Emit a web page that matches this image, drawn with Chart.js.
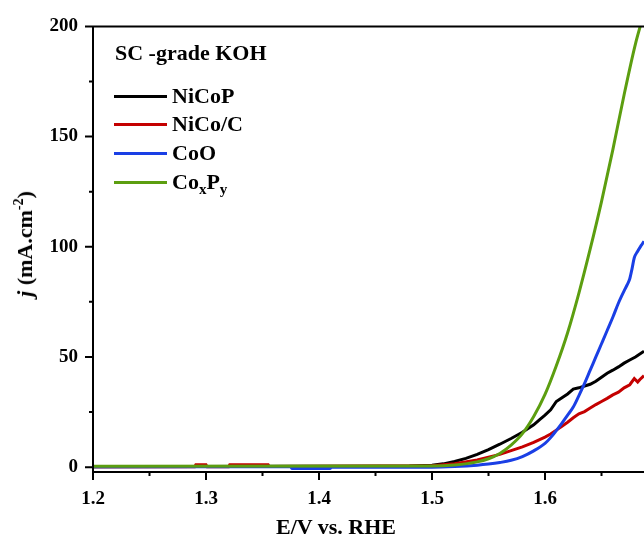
<!DOCTYPE html>
<html>
<head>
<meta charset="utf-8">
<script src="https://cdn.jsdelivr.net/npm/chart.js@4.4.0/dist/chart.umd.min.js"></script>
<style>
  body { margin: 0; background: #fff; }
  #wrap { position: relative; width: 644px; height: 535px; overflow: hidden; font-family: "Liberation Serif", "Times New Roman", serif; font-weight: bold; }
  #myChart { position: absolute; left: 0; top: 0; }
  .lbl { position: absolute; font-size: 22px; line-height: 22px; white-space: nowrap; color: #000; }
  .swatch { position: absolute; width: 53px; height: 3px; }
  sub { font-size: 15px; vertical-align: -5px; line-height: 0; }
  sup { font-size: 14px; vertical-align: 9px; line-height: 0; }
</style>
</head>
<body>
<div id="wrap">
  <canvas id="myChart" width="644" height="535"></canvas>
  <div class="lbl" style="left:115px; top:42px;">SC -grade KOH</div>

  <div class="swatch" style="left:114px; top:95px; background:#000000;"></div>
  <div class="lbl" style="left:172px; top:85px;">NiCoP</div>
  <div class="swatch" style="left:114px; top:123px; background:#c40000;"></div>
  <div class="lbl" style="left:172px; top:113px;">NiCo/C</div>
  <div class="swatch" style="left:114px; top:152px; background:#1a3fe5;"></div>
  <div class="lbl" style="left:172px; top:142px;">CoO</div>
  <div class="swatch" style="left:114px; top:181px; background:#5c9e10;"></div>
  <div class="lbl" style="left:172px; top:171px;">Co<sub>x</sub>P<sub>y</sub></div>

  <div class="lbl" style="left:336px; top:516px; transform:translateX(-50%);">E/V vs. RHE</div>
  <div class="lbl" style="left:25px; top:244px; transform:translate(-50%,-50%) rotate(-90deg);"><i>j</i> (mA.cm<sup>-2</sup>)</div>
</div>

<script>
// potentials (V vs RHE) and current densities (mA/cm2)
const nicopV = [1.2, 1.48, 1.50, 1.51, 1.52, 1.53, 1.54, 1.55, 1.56, 1.57, 1.58, 1.59, 1.595, 1.60, 1.605, 1.61, 1.615, 1.62, 1.625, 1.63, 1.635, 1.64, 1.645, 1.65, 1.655, 1.66, 1.665, 1.67, 1.675, 1.68, 1.6876];
const nicopJ = [0.2, 0.5, 0.9, 1.5, 2.6, 4.0, 5.8, 8.0, 10.4, 13.0, 15.8, 19.2, 21.5, 23.6, 26.0, 29.8, 31.5, 33.2, 35.4, 36.0, 36.8, 37.6, 39.0, 40.8, 42.6, 44.0, 45.5, 47.2, 48.6, 50.0, 52.6];

const nicocV = [1.2, 1.29, 1.291, 1.30, 1.301, 1.32, 1.321, 1.355, 1.356, 1.50, 1.52, 1.54, 1.56, 1.58, 1.59, 1.60, 1.605, 1.61, 1.615, 1.62, 1.625, 1.63, 1.635, 1.64, 1.645, 1.65, 1.655, 1.66, 1.665, 1.67, 1.675, 1.679, 1.682, 1.684, 1.6876];
const nicocJ = [0.2, 0.2, 1.1, 1.1, 0.2, 0.2, 1.1, 1.1, 0.3, 0.6, 1.5, 3.3, 5.8, 9.2, 11.2, 13.6, 15.0, 16.8, 18.6, 20.4, 22.4, 24.2, 25.2, 26.8, 28.4, 29.8, 31.2, 32.8, 34.0, 36.0, 37.4, 40.2, 38.6, 39.8, 41.5];

const cooV = [1.2, 1.375, 1.376, 1.41, 1.411, 1.50, 1.52, 1.54, 1.55, 1.56, 1.57, 1.58, 1.59, 1.60, 1.605, 1.61, 1.615, 1.62, 1.625, 1.63, 1.635, 1.64, 1.645, 1.65, 1.655, 1.66, 1.665, 1.67, 1.673, 1.675, 1.677, 1.679, 1.682, 1.685, 1.6876];
const cooJ = [0.2, 0.2, -0.6, -0.6, 0, 0, 0.3, 0.9, 1.4, 2.1, 3.1, 4.8, 7.4, 10.8, 13.4, 16.6, 20.0, 23.6, 27.3, 32.5, 38.0, 44.0, 50.0, 56.0, 62.0, 68.0, 74.5, 80.0, 83.0, 85.5, 90.0, 95.0, 98.0, 100.5, 102.5];

const coxpyV = [1.2, 1.50, 1.52, 1.54, 1.55, 1.56, 1.57, 1.58, 1.59, 1.60, 1.61, 1.62, 1.63, 1.64, 1.65, 1.66, 1.67, 1.68, 1.6876];
const coxpyJ = [0.4, 0.5, 1.0, 2.4, 3.8, 6.2, 10.0, 15.2, 23.0, 33.0, 46.0, 61.0, 79.0, 99.0, 120.5, 144.0, 169.0, 192.0, 206.0];

const xTicks = [1.2, 1.3, 1.4, 1.5, 1.6];
const xMinorTicks = [1.25, 1.35, 1.45, 1.55, 1.65];
const yTicks = [0, 50, 100, 150, 200];
const yMinorTicks = [25, 75, 125, 175];

function pts(xs, ys) {
  return xs.map((x, i) => ({ x: x, y: ys[i] }));
}

// axis frame + inward/outward tick marks
const framePlugin = {
  id: "frame",
  afterDraw(chart) {
    const ctx = chart.ctx;
    const a = chart.chartArea;
    const xs = chart.scales.x;
    const ys = chart.scales.y;
    ctx.save();
    ctx.strokeStyle = "#000";
    ctx.lineWidth = 2;
    ctx.beginPath();
    ctx.moveTo(a.left, a.top);
    ctx.lineTo(a.right, a.top);
    ctx.moveTo(a.left, a.top);
    ctx.lineTo(a.left, a.bottom);
    ctx.lineTo(a.right, a.bottom);
    xTicks.forEach(v => {
      const p = xs.getPixelForValue(v);
      ctx.moveTo(p, a.bottom);
      ctx.lineTo(p, a.bottom + 8);
    });
    xMinorTicks.forEach(v => {
      const p = xs.getPixelForValue(v);
      ctx.moveTo(p, a.bottom);
      ctx.lineTo(p, a.bottom + 4);
    });
    yTicks.forEach(v => {
      const p = ys.getPixelForValue(v);
      ctx.moveTo(a.left, p);
      ctx.lineTo(a.left - 8, p);
    });
    yMinorTicks.forEach(v => {
      const p = ys.getPixelForValue(v);
      ctx.moveTo(a.left, p);
      ctx.lineTo(a.left - 4, p);
    });
    ctx.stroke();
    ctx.restore();
  }
};

const tickFont = { family: "Liberation Serif", size: 19, weight: "bold" };

new Chart(document.getElementById("myChart"), {
  type: "line",
  data: {
    datasets: [
      { label: "NiCoP", data: pts(nicopV, nicopJ), borderColor: "#000000", order: 3 },
      { label: "NiCo/C", data: pts(nicocV, nicocJ), borderColor: "#c40000", order: 2 },
      { label: "CoO", data: pts(cooV, cooJ), borderColor: "#1a3fe5", order: 1, cubicInterpolationMode: "monotone" },
      { label: "CoxPy", data: pts(coxpyV, coxpyJ), borderColor: "#5c9e10", order: 0, cubicInterpolationMode: "monotone" }
    ]
  },
  options: {
    responsive: false,
    animation: false,
    layout: { padding: { top: 25, right: 0, left: 0, bottom: 0 } },
    elements: {
      point: { radius: 0 },
      line: { borderWidth: 3, tension: 0 }
    },
    plugins: {
      legend: { display: false },
      tooltip: { enabled: false }
    },
    scales: {
      x: {
        type: "linear",
        min: 1.2,
        max: 1.6876,
        grid: { display: false, drawTicks: false },
        border: { display: false },
        afterBuildTicks: s => { s.ticks = xTicks.map(v => ({ value: v })); },
        afterFit: s => { s.height = 63; },
        ticks: {
          color: "#000",
          font: tickFont,
          padding: 16,
          maxRotation: 0,
          callback: v => v.toFixed(1)
        }
      },
      y: {
        type: "linear",
        min: -2.2,
        max: 200,
        grid: { display: false, drawTicks: false },
        border: { display: false },
        afterBuildTicks: s => { s.ticks = yTicks.map(v => ({ value: v })); },
        afterFit: s => { s.width = 93; },
        ticks: {
          color: "#000",
          font: tickFont,
          padding: 15
        }
      }
    }
  },
  plugins: [framePlugin]
});
</script>
</body>
</html>
